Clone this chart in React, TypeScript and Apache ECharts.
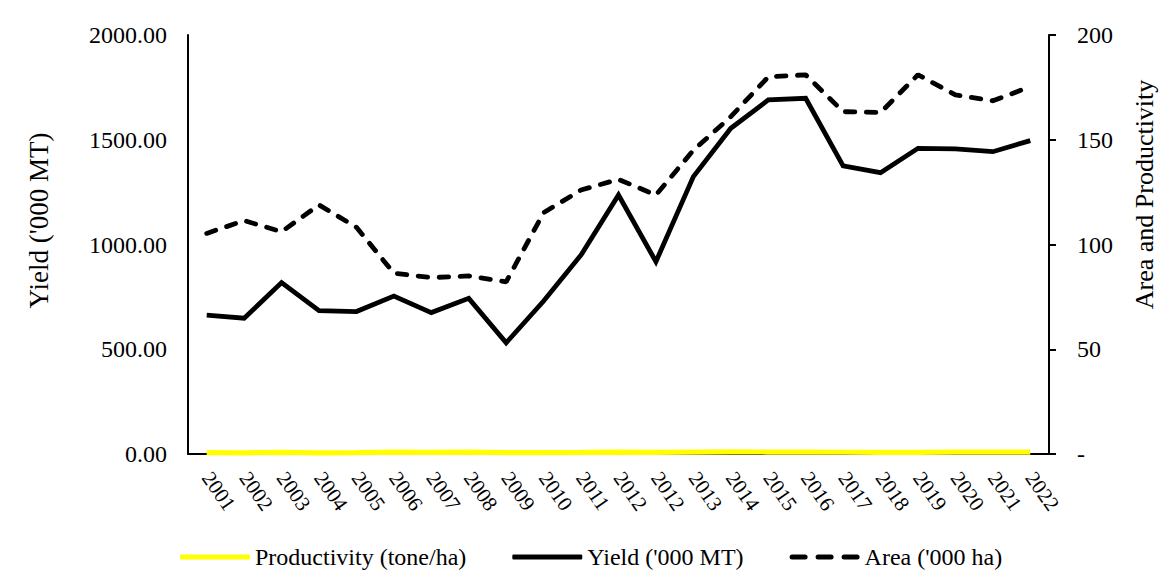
import React, { useEffect, useRef } from "react";
import * as echarts from "echarts";

const years = [
  "2001", "2002", "2003", "2004", "2005", "2006", "2007", "2008", "2009", "2010", "2011", "2012",
  "2012", "2013", "2014", "2015", "2016", "2017", "2018", "2019", "2020", "2021", "2022",
];
const productivity = [6.3, 5.8, 7.7, 5.8, 6.3, 8.7, 8.0, 8.7, 6.5, 6.3, 7.5, 9.4, 7.4, 9.1, 9.7, 9.4, 9.4, 8.4, 8.2, 8.1, 8.5, 8.6, 8.5];
const yieldVals = [663, 648, 818, 684, 680, 754, 675, 743, 531, 730, 950, 1236, 918, 1324, 1555, 1690, 1698, 1375, 1343, 1459, 1456, 1443, 1496];
const areaVals = [105.3, 111.4, 106.1, 118.9, 108.2, 86.3, 84.2, 85.0, 82.2, 115.2, 126.0, 131.1, 123.6, 145, 161, 180, 181, 163.4, 163, 181, 171.4, 168.6, 175.3];
const leftTicks = { min: 0, max: 2000, interval: 500 };
const rightTicks = { min: 0, max: 200, interval: 50 };

const FONT = "'Liberation Serif', 'Times New Roman', serif";

export default function App() {
  const ref = useRef<HTMLDivElement>(null);
  useEffect(() => {
    document.body.style.margin = "0";
    const chart = echarts.init(ref.current!, null, { renderer: "svg" });
    chart.setOption({
      animation: false,
      backgroundColor: "#ffffff",
      textStyle: { fontFamily: FONT, color: "#000" },
      grid: { left: 188, right: 110, top: 35, bottom: 127, containLabel: false, outerBoundsMode: "none" },
      legend: {
        left: 180,
        top: 545,
        padding: 0,
        itemWidth: 70,
        itemHeight: 5,
        itemGap: 46,
        textStyle: { fontFamily: FONT, fontSize: 24, color: "#000", lineHeight: 24 },
        data: [
          { name: "Productivity (tone/ha)", icon: "roundRect", itemStyle: { color: "#FFFF00" } },
          { name: "Yield ('000 MT)", icon: "roundRect", itemStyle: { color: "#000" } },
          {
            name: "Area ('000 ha)",
            icon: "path://M2.5,0h13a2.5,2.5 0 0 1 0,5h-13a2.5,2.5 0 0 1 0,-5z M28.5,0h13a2.5,2.5 0 0 1 0,5h-13a2.5,2.5 0 0 1 0,-5z M54.5,0h13a2.5,2.5 0 0 1 0,5h-13a2.5,2.5 0 0 1 0,-5z",
            itemStyle: { color: "#000" },
          },
        ],
      },
      xAxis: {
        type: "category",
        data: years,
        boundaryGap: true,
        axisLine: { show: true, lineStyle: { color: "#000", width: 2 } },
        axisTick: { show: false },
        splitLine: { show: false },
        axisLabel: { interval: 0, rotate: -55, margin: 20, fontSize: 21, fontFamily: FONT, color: "#000" },
      },
      yAxis: [
        {
          type: "value",
          position: "left",
          ...leftTicks,
          name: "Yield ('000 MT)",
          nameLocation: "middle",
          nameRotate: 90,
          nameGap: 136,
          nameTextStyle: { fontFamily: FONT, fontSize: 27, color: "#000", lineHeight: 27, padding: [0, 0, 0, 48] },
          axisLine: { show: true, lineStyle: { color: "#000", width: 2 } },
          axisTick: { show: false },
          splitLine: { show: false },
          axisLabel: {
            margin: 21,
            fontSize: 24,
            fontFamily: FONT,
            color: "#000",
            formatter: (v: number) => v.toFixed(2),
          },
        },
        {
          type: "value",
          position: "right",
          ...rightTicks,
          name: "Area and Productivity",
          nameLocation: "middle",
          nameRotate: 90,
          nameGap: 82,
          nameTextStyle: { fontFamily: FONT, fontSize: 26, color: "#000", lineHeight: 26, padding: [0, 0, 0, 100] },
          axisLine: { show: true, lineStyle: { color: "#000", width: 2 } },
          axisTick: { show: true, inside: false, length: 7, lineStyle: { color: "#000", width: 2 } },
          splitLine: { show: false },
          axisLabel: {
            margin: 28,
            fontSize: 24,
            fontFamily: FONT,
            color: "#000",
            formatter: (v: number) => (v === 0 ? "-" : String(v)),
          },
        },
      ],
      series: [
        {
          name: "Productivity (tone/ha)",
          type: "line",
          yAxisIndex: 0,
          data: productivity,
          showSymbol: false,
          symbol: "none",
          clip: false,
          itemStyle: { color: "#FFFF00" },
          lineStyle: { color: "#FFFF00", width: 5.2, opacity: 1 },
          z: 10,
        },
        {
          name: "Yield ('000 MT)",
          type: "line",
          yAxisIndex: 0,
          data: yieldVals,
          showSymbol: false,
          symbol: "none",
          itemStyle: { color: "#000" },
          lineStyle: { color: "#000", width: 4.8, join: "miter" },
          z: 4,
        },
        {
          name: "Area ('000 ha)",
          type: "line",
          yAxisIndex: 1,
          data: areaVals,
          showSymbol: false,
          symbol: "none",
          itemStyle: { color: "#000" },
          lineStyle: { color: "#000", width: 4.8, type: [9.5, 11.5], cap: "round" },
          z: 4,
        },
      ],
    });
    return () => chart.dispose();
  }, []);
  return <div ref={ref} style={{ width: 1159, height: 581 }} />;
}
